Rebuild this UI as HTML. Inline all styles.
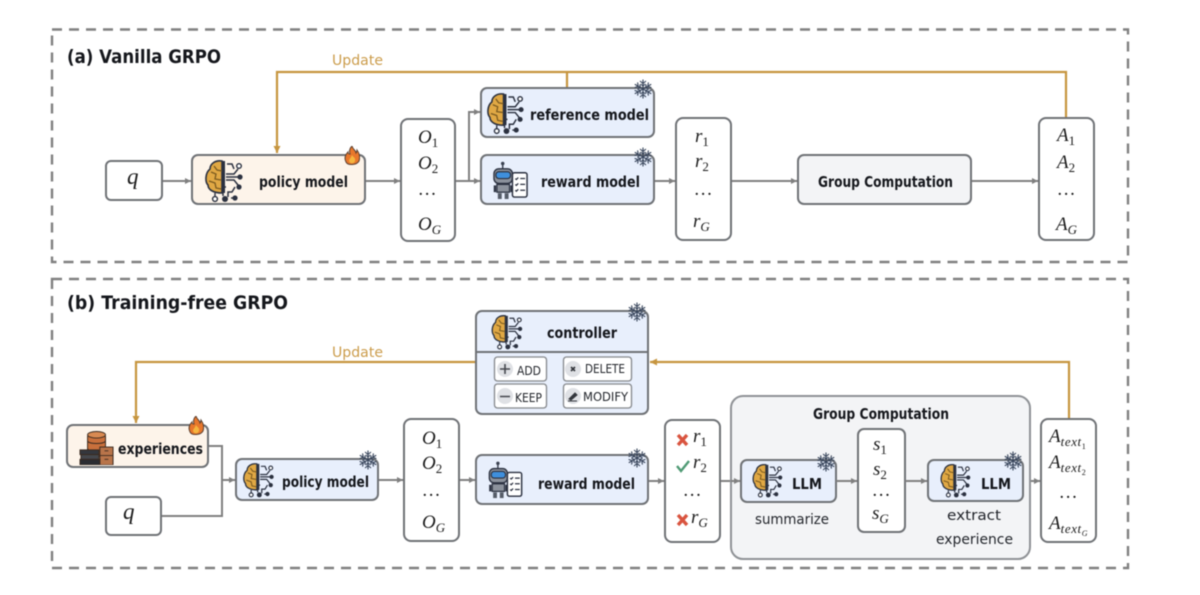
<!DOCTYPE html>
<html><head><meta charset="utf-8"><style>
html,body{margin:0;padding:0;background:#fff}
svg{display:block;filter:blur(.4px)}
.l{font-family:"DejaVu Sans",sans-serif;font-weight:bold;fill:#15171c}
.n{font-family:"DejaVu Sans",sans-serif;fill:#22252b}
.m{font-family:"Liberation Serif",serif;font-style:italic;font-size:19px;fill:#1b1b1b}
.s{font-size:13px;font-style:normal}
.sg{font-size:13px}
.x{font-size:13px;letter-spacing:.6px}
.y{font-size:8px;font-style:normal;letter-spacing:0}
.b{stroke:#6f7276;stroke-width:2;fill:#fff}
.g{stroke:#808080;stroke-width:2;fill:none}
.o{stroke:#c6953f;stroke-width:2.2;fill:none}
.u{font-family:"DejaVu Sans",sans-serif;font-size:14px;fill:#cb9c4b}
.d{stroke:#808080;stroke-width:2.4;fill:none;stroke-dasharray:10 7}
</style></head><body>
<svg width="1200" height="595" viewBox="0 0 1200 595" xmlns="http://www.w3.org/2000/svg">
<defs>
<marker id="ag" markerWidth="7" markerHeight="7" refX="6" refY="3" orient="auto" markerUnits="userSpaceOnUse"><path d="M0 0L6 3L0 6z" fill="#808080"/></marker>
<marker id="ao" markerWidth="9" markerHeight="9" refX="7" refY="3.5" orient="auto" markerUnits="userSpaceOnUse"><path d="M0 0L7 3.5L0 7z" fill="#c6953f"/></marker>
<symbol id="brain" viewBox="0 0 38 44">
<path d="M17 1C10 0 5 4 5 9C0 13 0 22 3 25C3 30 9 33 17 33z" fill="#e0a844" stroke="#2b3140" stroke-width="1.6"/>
<path d="M6 12l5 2l-1 5l6 1M4 21l6 2l1 5l5 1M9 6l3 4l5 1" fill="none" stroke="#7a5a20" stroke-width="1.3"/>
<path d="M17 1h3v32h-3z" fill="#2b3140"/>
<path d="M21 14h8l4-5M21 17h13M21 20h8l4 5M22 4h5l2 5M21 27h-3v9M30 27l-3 5h-4v5M26 38h6" fill="none" stroke="#2b3140" stroke-width="1.5"/>
<circle cx="34" cy="6" r="2.3" fill="#fff" stroke="#2b3140" stroke-width="1.4"/><circle cx="35" cy="17" r="2.6" fill="#2b3140"/><circle cx="34" cy="27" r="2.6" fill="#2b3140"/>
<circle cx="10" cy="39" r="2.4" fill="#fff" stroke="#2b3140" stroke-width="1.4"/><path d="M10 33v4" stroke="#2b3140" stroke-width="1.4"/>
<circle cx="20" cy="39" r="3" fill="#2b3140"/><circle cx="30" cy="38" r="2.6" fill="#2b3140"/>
</symbol>
<symbol id="robot" viewBox="0 0 38 40">
<circle cx="11" cy="2.5" r="1.8" fill="#3a4150"/><path d="M11 4v4" stroke="#3a4150" stroke-width="1.5"/>
<rect x="2" y="8" width="19" height="15" rx="5" fill="#8c929c" stroke="#2b3140" stroke-width="1.4"/>
<rect x="4" y="11" width="15" height="7" rx="3" fill="#3f8fdc" stroke="#2b3140" stroke-width="1.2"/>
<rect x="5" y="24" width="13" height="8" fill="#8c929c" stroke="#2b3140" stroke-width="1.3"/>
<path d="M3 25v7M20 25v7" stroke="#2b3140" stroke-width="2.4"/>
<rect x="6" y="33" width="4" height="6" fill="#555c68"/><rect x="13" y="33" width="4" height="6" fill="#555c68"/>
<rect x="21" y="12" width="15" height="25" rx="2" fill="#fff" stroke="#2b3140" stroke-width="1.5"/>
<path d="M24 18l1 1l2-2M29 18h5M24 24l1 1l2-2M29 24h5M24 30l1 1l2-2M29 30h5" fill="none" stroke="#2b3140" stroke-width="1.3"/>
</symbol>
<symbol id="snow" viewBox="-10 -10 20 20">
<g stroke="#39465c" stroke-width="1.1" fill="none">
<g id="arm"><path d="M0 0V-9.500M-3 -8L0 -5.500L3 -8M-2.400 -5L0 -3L2.400 -5"/></g>
<use href="#arm" transform="rotate(60)"/><use href="#arm" transform="rotate(120)"/><use href="#arm" transform="rotate(180)"/><use href="#arm" transform="rotate(240)"/><use href="#arm" transform="rotate(300)"/>
</g>
</symbol>
<symbol id="fire" viewBox="0 0 16 20">
<path d="M8 0C9 4 12 4 12 7C13 6 13 5 13 4C16 8 16 12 15 15C13 19 4 20 2 16C0 12 1 9 4 6C4 8 5 8 6 8C5 5 6 2 8 0z" fill="#e8772c" stroke="#5b4030" stroke-width="1"/>
<path d="M8 9C9 11 12 12 11 15C10 18 6 18 5 15C5 13 7 12 8 9z" fill="#f5b53f"/>
</symbol>
<symbol id="db" viewBox="0 0 38 36">
<g stroke="#3a2a20" stroke-width="1">
<rect x="9" y="3" width="19" height="24" rx="3" fill="#c9703c"/>
<ellipse cx="18.500" cy="4" rx="9.500" ry="3.500" fill="#d98a52"/>
<path d="M9 11c3 3 16 3 19 0M9 19c3 3 16 3 19 0" fill="none"/>
<rect x="22" y="17" width="14" height="19" fill="#b8744a"/><path d="M22 26h14M27 21h4M27 30h4" fill="none"/>
<rect x="1" y="20" width="20" height="5" fill="#34373d"/><rect x="2" y="25" width="19" height="5" fill="#44474d"/><rect x="1" y="30" width="21" height="6" fill="#2b2d33"/>
</g>
</symbol>
</defs>

<rect x="52" y="29.500" width="1076" height="232.500" class="d"/>
<rect x="52" y="279" width="1076" height="289" class="d"/>
<text class="l" x="67" y="63" font-size="19" textLength="154" lengthAdjust="spacingAndGlyphs">(a) Vanilla GRPO</text>
<text class="l" x="67" y="309" font-size="19" textLength="221" lengthAdjust="spacingAndGlyphs">(b) Training-free GRPO</text>

<!-- panel a connectors -->
<path class="o" d="M1066 118V72H277V153" marker-end="url(#ao)"/><path class="o" d="M567 72V88"/>
<text class="u" x="332" y="65" textLength="51" lengthAdjust="spacingAndGlyphs">Update</text>
<path class="g" d="M162 181H191" marker-end="url(#ag)"/><path class="g" d="M365 181H400" marker-end="url(#ag)"/>
<path class="g" d="M455 181H480" marker-end="url(#ag)"/><path class="g" d="M469 181V112H480" marker-end="url(#ag)"/>
<path class="g" d="M654 181H675" marker-end="url(#ag)"/><path class="g" d="M731 181H797" marker-end="url(#ag)"/><path class="g" d="M971 181H1038" marker-end="url(#ag)"/>

<!-- panel a nodes -->
<rect class="b" x="106" y="161" width="56" height="39" rx="5"/>
<text class="m" x="127" y="184" style="font-size:23px">q</text>
<rect class="b" x="192" y="155" width="173" height="49" rx="6" style="fill:#fdf4ea"/>
<use href="#brain" x="205" y="160" width="38" height="44"/>
<text class="l" x="259" y="187" font-size="15" textLength="89" lengthAdjust="spacingAndGlyphs">policy model</text>
<use href="#fire" x="344" y="146" width="16" height="20"/>
<rect class="b" x="401" y="119" width="54" height="122" rx="7"/>
<text class="m" x="418" y="143">O<tspan class="s" dy="4">1</tspan></text>
<text class="m" x="418" y="169">O<tspan class="s" dy="4">2</tspan></text>
<text class="m" x="419" y="195">…</text>
<text class="m" x="418" y="230">O<tspan class="sg" dy="4">G</tspan></text>
<rect class="b" x="481" y="88" width="173" height="49" rx="6" style="fill:#e8effc"/>
<use href="#brain" x="487" y="93" width="37" height="43"/>
<text class="l" x="530" y="120" font-size="15" textLength="119" lengthAdjust="spacingAndGlyphs">reference model</text>
<use href="#snow" x="633" y="79" width="20" height="20"/>
<rect class="b" x="481" y="155" width="173" height="49" rx="6" style="fill:#e8effc"/>
<use href="#robot" x="492" y="161" width="37" height="39"/>
<text class="l" x="541" y="187" font-size="15" textLength="99" lengthAdjust="spacingAndGlyphs">reward model</text>
<use href="#snow" x="633" y="147" width="20" height="20"/>
<rect class="b" x="676" y="118" width="55" height="122" rx="7"/>
<text class="m" x="695" y="142">r<tspan class="s" dy="4">1</tspan></text>
<text class="m" x="695" y="167">r<tspan class="s" dy="4">2</tspan></text>
<text class="m" x="695" y="195">…</text>
<text class="m" x="693" y="227">r<tspan class="sg" dy="4">G</tspan></text>
<rect class="b" x="798" y="155" width="173" height="49" rx="6" style="fill:#f3f4f6"/>
<text class="l" x="818" y="187" font-size="15" textLength="135" lengthAdjust="spacingAndGlyphs">Group Computation</text>
<rect class="b" x="1039" y="118" width="55" height="122" rx="7"/>
<text class="m" x="1057" y="141">A<tspan class="s" dy="4">1</tspan></text>
<text class="m" x="1057" y="168">A<tspan class="s" dy="4">2</tspan></text>
<text class="m" x="1058" y="195">…</text>
<text class="m" x="1056" y="230">A<tspan class="sg" dy="4">G</tspan></text>

<!-- panel b connectors -->
<path class="o" d="M476 362H136V423" marker-end="url(#ao)"/>
<path class="o" d="M1069 419V362H650" marker-end="url(#ao)"/>
<text class="u" x="332" y="357" textLength="51" lengthAdjust="spacingAndGlyphs">Update</text>
<path class="g" d="M208 446H222V516H161"/><path class="g" d="M222 480H235" marker-end="url(#ag)"/>
<path class="g" d="M378 480H403" marker-end="url(#ag)"/><path class="g" d="M459 480H475" marker-end="url(#ag)"/>
<path class="g" d="M648 481H664" marker-end="url(#ag)"/><path class="g" d="M720 481H740" marker-end="url(#ag)"/>
<path class="g" d="M1023 481H1040" marker-end="url(#ag)"/>

<!-- panel b nodes -->
<rect class="b" x="67" y="425" width="141" height="42" rx="6" style="fill:#fdf4ea"/>
<use href="#db" x="78" y="431" width="38" height="34"/>
<text class="l" x="118" y="454" font-size="15" textLength="85" lengthAdjust="spacingAndGlyphs">experiences</text>
<use href="#fire" x="188" y="416" width="16" height="20"/>
<rect class="b" x="106" y="497" width="55" height="38" rx="5"/>
<text class="m" x="123" y="519" style="font-size:23px">q</text>
<rect class="b" x="236" y="459" width="142" height="41" rx="6" style="fill:#e8effc"/>
<use href="#brain" x="243" y="463" width="31" height="36"/>
<text class="l" x="282" y="487" font-size="15" textLength="87" lengthAdjust="spacingAndGlyphs">policy model</text>
<use href="#snow" x="358" y="450" width="20" height="20"/>
<rect class="b" x="404" y="419" width="55" height="122" rx="7"/>
<text class="m" x="422" y="444">O<tspan class="s" dy="4">1</tspan></text>
<text class="m" x="422" y="469">O<tspan class="s" dy="4">2</tspan></text>
<text class="m" x="423" y="496">…</text>
<text class="m" x="422" y="528">O<tspan class="sg" dy="4">G</tspan></text>

<rect class="b" x="476" y="311" width="172" height="103" rx="6" style="fill:#e8effc"/>
<path d="M476 352H648" stroke="#6f7276" stroke-width="2"/>
<use href="#brain" x="491" y="315" width="32" height="36"/>
<text class="l" x="547" y="338" font-size="15" textLength="70" lengthAdjust="spacingAndGlyphs">controller</text>
<use href="#snow" x="627" y="302" width="20" height="20"/>
<g>
<rect x="494.500" y="357" width="52" height="24" rx="3" fill="#fff" stroke="#85888c" stroke-width="1.3"/>
<rect x="494.500" y="384" width="52" height="24" rx="3" fill="#fff" stroke="#85888c" stroke-width="1.3"/>
<rect x="563.500" y="357" width="68" height="24" rx="3" fill="#fff" stroke="#85888c" stroke-width="1.3"/>
<rect x="563.500" y="384" width="68" height="24" rx="3" fill="#fff" stroke="#85888c" stroke-width="1.3"/>
<circle cx="505" cy="369" r="8" fill="#dfe1e5"/><circle cx="505" cy="396" r="8" fill="#dfe1e5"/><circle cx="573" cy="369" r="8" fill="#dfe1e5"/><circle cx="573" cy="396" r="8" fill="#dfe1e5"/>
<path d="M500 369h10M505 364v10M500 396.500h10" stroke="#44474d" stroke-width="1.6"/>
<path d="M571 367l4 4M575 367l-4 4" stroke="#33363c" stroke-width="1.6"/>
<path d="M569 399l6-6l2 2l-6 5zM568 401h9" fill="#33363c" stroke="#33363c" stroke-width="1"/>
<g class="n" font-size="12.500">
<text x="517" y="375" textLength="24" lengthAdjust="spacingAndGlyphs">ADD</text>
<text x="515" y="402" textLength="27" lengthAdjust="spacingAndGlyphs">KEEP</text>
<text x="585" y="373" textLength="40" lengthAdjust="spacingAndGlyphs">DELETE</text>
<text x="583" y="401" textLength="45" lengthAdjust="spacingAndGlyphs">MODIFY</text>
</g></g>

<rect class="b" x="476" y="455" width="172" height="49" rx="6" style="fill:#e8effc"/>
<use href="#robot" x="487" y="461" width="37" height="38"/>
<text class="l" x="538" y="489" font-size="15" textLength="97" lengthAdjust="spacingAndGlyphs">reward model</text>
<use href="#snow" x="627" y="448" width="20" height="20"/>

<rect class="b" x="665" y="420" width="55" height="122" rx="7"/>
<path d="M678 435l9 10M687 435l-9 10" stroke="#d9543f" stroke-width="3.4"/>
<path d="M677 466l4 5l8-10" stroke="#4f9a74" stroke-width="2.4" fill="none"/>
<path d="M678 515l9 10M687 515l-9 10" stroke="#d9543f" stroke-width="3.4"/>
<text class="m" x="693" y="442">r<tspan class="s" dy="4">1</tspan></text>
<text class="m" x="693" y="468">r<tspan class="s" dy="4">2</tspan></text>
<text class="m" x="684" y="496">…</text>
<text class="m" x="691" y="523">r<tspan class="sg" dy="4">G</tspan></text>

<rect x="731" y="396" width="299" height="163" rx="12" fill="#f3f4f6" stroke="#8f9296" stroke-width="2"/>
<path class="g" d="M731 481H740" marker-end="url(#ag)"/>
<text class="l" x="813" y="419" font-size="15" textLength="136" lengthAdjust="spacingAndGlyphs">Group Computation</text>
<rect class="b" x="741" y="460" width="95" height="42" rx="6" style="fill:#e8effc"/>
<use href="#brain" x="752" y="464" width="31" height="35"/>
<text class="l" x="792" y="489" font-size="15" textLength="30" lengthAdjust="spacingAndGlyphs">LLM</text>
<use href="#snow" x="816" y="452" width="20" height="20"/>
<text class="n" x="755" y="524" font-size="14.500" textLength="74" lengthAdjust="spacingAndGlyphs">summarize</text>
<rect class="b" x="858" y="429" width="47" height="103" rx="6"/>
<text class="m" x="873" y="450">s<tspan class="s" dy="4">1</tspan></text>
<text class="m" x="873" y="475">s<tspan class="s" dy="4">2</tspan></text>
<text class="m" x="873" y="496">…</text>
<text class="m" x="872" y="519">s<tspan class="sg" dy="4">G</tspan></text>
<path class="g" d="M836 481H857" marker-end="url(#ag)"/><path class="g" d="M905 481H927" marker-end="url(#ag)"/>
<rect class="b" x="928" y="460" width="95" height="41" rx="6" style="fill:#e8effc"/>
<use href="#brain" x="940" y="464" width="31" height="35"/>
<text class="l" x="981" y="489" font-size="15" textLength="30" lengthAdjust="spacingAndGlyphs">LLM</text>
<use href="#snow" x="1003" y="451" width="20" height="20"/>
<text class="n" x="947" y="520" font-size="14.500" textLength="54" lengthAdjust="spacingAndGlyphs">extract</text>
<text class="n" x="936" y="544" font-size="14.500" textLength="77" lengthAdjust="spacingAndGlyphs">experience</text>
<rect class="b" x="1041" y="419" width="55" height="123" rx="7"/>
<text class="m" x="1049" y="442">A<tspan class="x" dy="4">text<tspan class="y" dy="3">1</tspan></tspan></text>
<text class="m" x="1049" y="468">A<tspan class="x" dy="4">text<tspan class="y" dy="3">2</tspan></tspan></text>
<text class="m" x="1060" y="498">…</text>
<text class="m" x="1049" y="529">A<tspan class="x" dy="4">text<tspan class="y" dy="3" style="font-style:italic">G</tspan></tspan></text>
</svg>
</body></html>
